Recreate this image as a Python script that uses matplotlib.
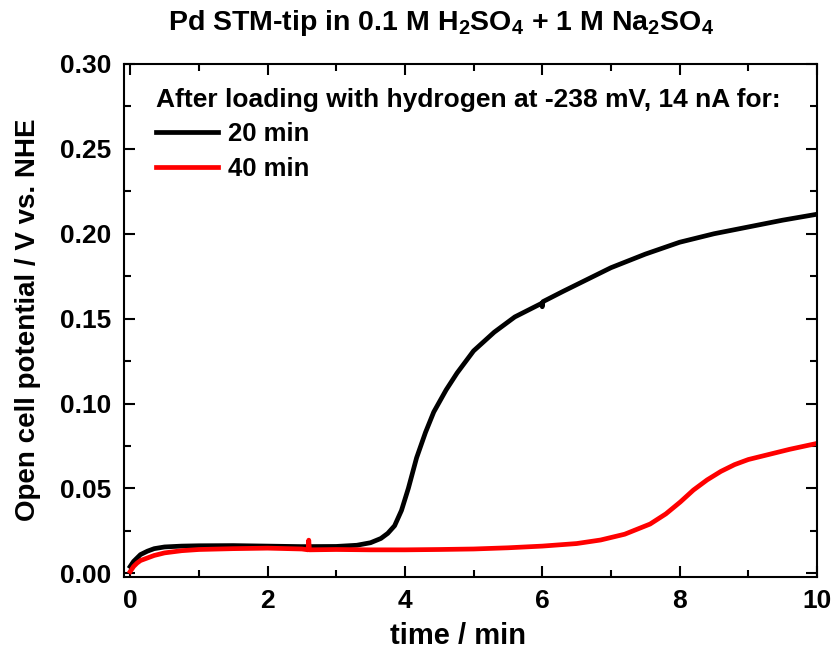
import matplotlib.pyplot as plt
from matplotlib.ticker import MultipleLocator

plt.rcParams['font.family'] = 'Liberation Sans'
plt.rcParams['font.weight'] = 'bold'
plt.rcParams['mathtext.fontset'] = 'custom'
plt.rcParams['mathtext.bf'] = 'Liberation Sans:bold'
plt.rcParams['mathtext.rm'] = 'Liberation Sans:bold'
plt.rcParams['mathtext.default'] = 'bf'

# open cell potential after loading for 20 min
t_20 = [0.0, 0.05, 0.1, 0.15, 0.25, 0.35, 0.5, 0.75, 1.0, 1.5, 2.0, 2.5, 3.0,
        3.3, 3.5, 3.65, 3.75, 3.85, 3.95, 4.05, 4.17, 4.3, 4.42, 4.6, 4.76,
        5.0, 5.3, 5.6, 5.99, 6.0, 6.01, 6.3, 6.6, 7.0, 7.5, 8.0, 8.5, 9.0,
        9.5, 10.0]
v_20 = [0.004, 0.007, 0.009, 0.011, 0.013, 0.0145, 0.0155, 0.016, 0.0162,
        0.0163, 0.016, 0.0157, 0.0158, 0.0165, 0.018, 0.0205, 0.0235, 0.028,
        0.037, 0.05, 0.068, 0.083, 0.095, 0.108, 0.118, 0.131, 0.142, 0.151,
        0.159, 0.157, 0.160, 0.166, 0.172, 0.180, 0.188, 0.195, 0.200, 0.204,
        0.208, 0.2115]

# open cell potential after loading for 40 min
t_40 = [0.0, 0.05, 0.1, 0.15, 0.25, 0.35, 0.5, 0.75, 1.0, 1.5, 2.0, 2.5,
        2.59, 2.6, 2.61, 3.0, 3.5, 4.0, 4.5, 5.0, 5.5, 6.0, 6.5, 6.85, 7.2,
        7.57, 7.8, 8.01, 8.2, 8.4, 8.6, 8.8, 9.0, 9.3, 9.6, 10.0]
v_40 = [0.001, 0.004, 0.006, 0.0075, 0.009, 0.0105, 0.012, 0.0133, 0.014,
        0.0145, 0.0148, 0.0143, 0.0138, 0.0195, 0.0138, 0.014, 0.0138,
        0.0138, 0.014, 0.0143, 0.015, 0.016, 0.0175, 0.0196, 0.023, 0.029,
        0.035, 0.042, 0.049, 0.055, 0.060, 0.064, 0.067, 0.070, 0.073,
        0.0765]

W, H = 832, 651
fig = plt.figure(figsize=(8.32, 6.51), dpi=100)
ax = fig.add_axes([124/W, 1 - 577/H, (817-124)/W, (577-64)/H])

ax.plot(t_20, v_20, color='black', lw=3.4, label='20 min')
ax.plot(t_40, v_40, color='#ff0000', lw=3.4, label='40 min')

ax.set_xlim(-0.09, 10.0)
ax.set_ylim(-0.0022, 0.30)
ax.xaxis.set_major_locator(MultipleLocator(2))
ax.xaxis.set_minor_locator(MultipleLocator(1))
ax.yaxis.set_major_locator(MultipleLocator(0.05))
ax.yaxis.set_minor_locator(MultipleLocator(0.025))
ax.yaxis.set_major_formatter(plt.FormatStrFormatter('%.2f'))
ax.tick_params(which='both', direction='in', top=True, right=True, width=1.5)
ax.tick_params(which='major', length=8, labelsize=19, pad=9)
ax.tick_params(which='minor', length=5)
for s in ax.spines.values():
    s.set_linewidth(1.5)

# axis labels placed in figure pixels
fig.text(458/W, 1 - 636/H, 'time / min', ha='center', va='center',
         fontsize=21, fontweight='bold')
fig.text(28/W, 1 - 320/H, 'Open cell potential / V vs. NHE', rotation=90,
         ha='center', va='center', fontsize=20, fontweight='bold')

fig.text(441/W, 1 - 23/H,
         'Pd STM-tip in 0.1 M H$_2$SO$_4$ + 1 M Na$_2$SO$_4$',
         ha='center', va='center', fontsize=20.5, fontweight='bold')

leg = ax.legend(title='After loading with hydrogen at -238 mV, 14 nA for:',
                loc='upper left', bbox_to_anchor=(32/693, 1 - 24/513),
                frameon=False, fontsize=18.5,
                title_fontproperties={'size': 19, 'weight': 'bold'},
                alignment='left', handlelength=2.4, handletextpad=0.4,
                labelspacing=0.4, borderaxespad=0, borderpad=0)

fig.savefig('out.png', dpi=100)
